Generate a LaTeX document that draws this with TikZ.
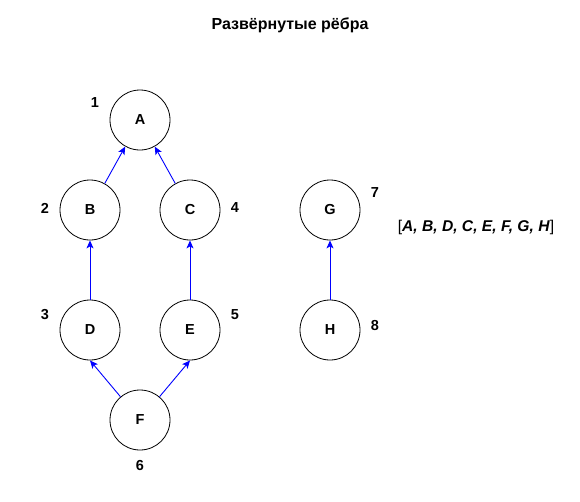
\documentclass[tikz,border=0pt]{standalone}
\usepackage{fontspec}
\setmainfont{Liberation Sans}
\usetikzlibrary{arrows.meta}
\begin{document}
\begin{tikzpicture}[x=1pt,y=-1pt,
  vert/.style={draw, circle, minimum size=60pt, inner sep=0pt, line width=0.8pt, font=\fontsize{14.5}{16}\selectfont\bfseries},
  lbl/.style={font=\fontsize{14.5}{16}\selectfont\bfseries, inner sep=0pt},
  edge/.style={draw=blue, line width=0.9pt, -{Stealth[length=8pt,width=7pt,inset=2pt]}}]
\useasboundingbox (0,0) rectangle (580,501);
\node[font=\fontsize{16}{18}\selectfont\bfseries, inner sep=0pt] (title) at (290,25) {Развёрнутые рёбра};
\node[vert] (A) at (140,120) {A};
\node[vert] (B) at (90,210) {B};
\node[vert] (C) at (190,210) {C};
\node[vert] (D) at (90,330) {D};
\node[vert] (E) at (190,330) {E};
\node[vert] (F) at (140,420) {F};
\node[vert] (G) at (330,210) {G};
\node[vert] (H) at (330,330) {H};
\node[lbl] (l1) at (95,103) {1};
\node[lbl] (l2) at (45,208) {2};
\node[lbl] (l3) at (45,315) {3};
\node[lbl] (l4) at (235,208) {4};
\node[lbl] (l5) at (235,315) {5};
\node[lbl] (l6) at (140,465) {6};
\node[lbl] (l7) at (375,193) {7};
\node[lbl] (l8) at (375,326) {8};
\node[font=\fontsize{15.6}{17}\selectfont, inner sep=0pt] (list) at (476,227) {[\textbf{\textit{A, B, D, C, E, F, G, H}}]};
\draw[edge] (B) -- (A);
\draw[edge] (C) -- (A);
\draw[edge] (D) -- (B);
\draw[edge] (E) -- (C);
\draw[edge] (F) -- (D.south);
\draw[edge] (F) -- (E.south);
\draw[edge] (H) -- (G);
\end{tikzpicture}
\end{document}
